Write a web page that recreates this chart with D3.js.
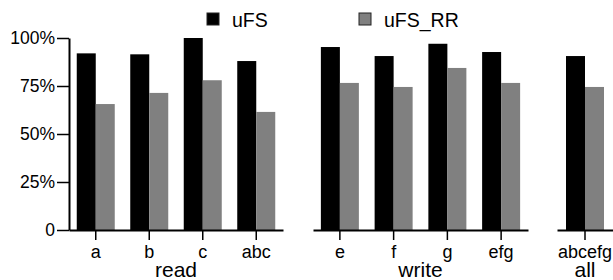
<!DOCTYPE html>
<html>
<head>
<meta charset="utf-8">
<script src="https://cdn.jsdelivr.net/npm/d3@7"></script>
<style>
  body { margin: 0; background: #fff; }
  svg { display: block; font-family: "Liberation Sans", Arial, sans-serif; }
</style>
</head>
<body>
<svg width="613" height="280"></svg>
<script>
var svg = d3.select("svg");

// data (percent)
var groups = ["read", "write", "all"];
var categories = [["a", "b", "c", "abc"], ["e", "f", "g", "efg"], ["abcefg"]];
var series = ["uFS", "uFS_RR"];
var uFS = [92, 91.5, 100, 88, 95.3, 90.6, 97, 92.7, 90.6];
var uFS_RR = [65.6, 71.4, 78, 61.5, 76.6, 74.5, 84.4, 76.6, 74.5];
var yTicks = [0, 25, 50, 75, 100];

var color = {"uFS": "#000", "uFS_RR": "#808080"};

// panel extents in pixels
var panels = [[69, 283], [313, 528], [557, 613]];

var y = d3.scaleLinear().domain([0, 100]).range([230, 38]);

// y axis
var yAxis = svg.append("g")
    .attr("transform", "translate(69,0)")
    .call(d3.axisLeft(y)
        .tickValues(yTicks)
        .tickSize(12)
        .tickSizeOuter(0)
        .tickPadding(2)
        .tickFormat(function (d) { return d === 0 ? "0" : d + "%"; }));
yAxis.select(".domain").attr("stroke-width", 2);
yAxis.selectAll(".tick line").attr("stroke-width", 1.5);
yAxis.selectAll("text").style("font-size", "17.5px").attr("fill", "#000");

var inner = d3.scaleBand().domain(series).range([-19, 19]);

var idx = 0;
groups.forEach(function (g, gi) {
    var cats = categories[gi];
    var x = d3.scaleBand().domain(cats).range(panels[gi]);
    var panel = svg.append("g");

    var rows = cats.map(function (c) {
        var r = {cat: c, uFS: uFS[idx], uFS_RR: uFS_RR[idx]};
        idx++;
        return r;
    });

    panel.selectAll("g.cat")
        .data(rows)
        .enter().append("g")
        .attr("class", "cat")
        .attr("transform", function (d) {
            return "translate(" + (x(d.cat) + x.bandwidth() / 2) + ",0)";
        })
        .selectAll("rect")
        .data(function (d) {
            return series.map(function (s) { return {key: s, value: d[s]}; });
        })
        .enter().append("rect")
        .attr("x", function (d) { return inner(d.key); })
        .attr("width", inner.bandwidth())
        .attr("y", function (d) { return y(d.value); })
        .attr("height", function (d) { return y(0) - y(d.value); })
        .attr("fill", function (d) { return color[d.key]; });

    var xAxis = panel.append("g")
        .attr("transform", "translate(0,230)")
        .call(d3.axisBottom(x)
            .tickSize(10)
            .tickSizeOuter(0)
            .tickPadding(5));
    xAxis.select(".domain").attr("stroke-width", 2);
    xAxis.selectAll(".tick line").attr("stroke-width", 1.5);
    xAxis.selectAll("text").style("font-size", "18px").attr("fill", "#000");

    panel.append("text")
        .attr("x", (panels[gi][0] + panels[gi][1]) / 2)
        .attr("y", 277)
        .attr("text-anchor", "middle")
        .style("font-size", "21px")
        .text(g);
});

// legend
var legendX = [207, 359];
var legend = svg.append("g").selectAll("g")
    .data(series)
    .enter().append("g")
    .attr("transform", function (d, i) { return "translate(" + legendX[i] + ",13)"; });

legend.append("rect")
    .attr("width", 12)
    .attr("height", 12)
    .attr("fill", function (d) { return color[d]; })
    .attr("stroke", "#222")
    .attr("stroke-width", 1);

legend.append("text")
    .attr("x", 25)
    .attr("y", 14)
    .style("font-size", "19.5px")
    .text(function (d) { return d; });
</script>
</body>
</html>
